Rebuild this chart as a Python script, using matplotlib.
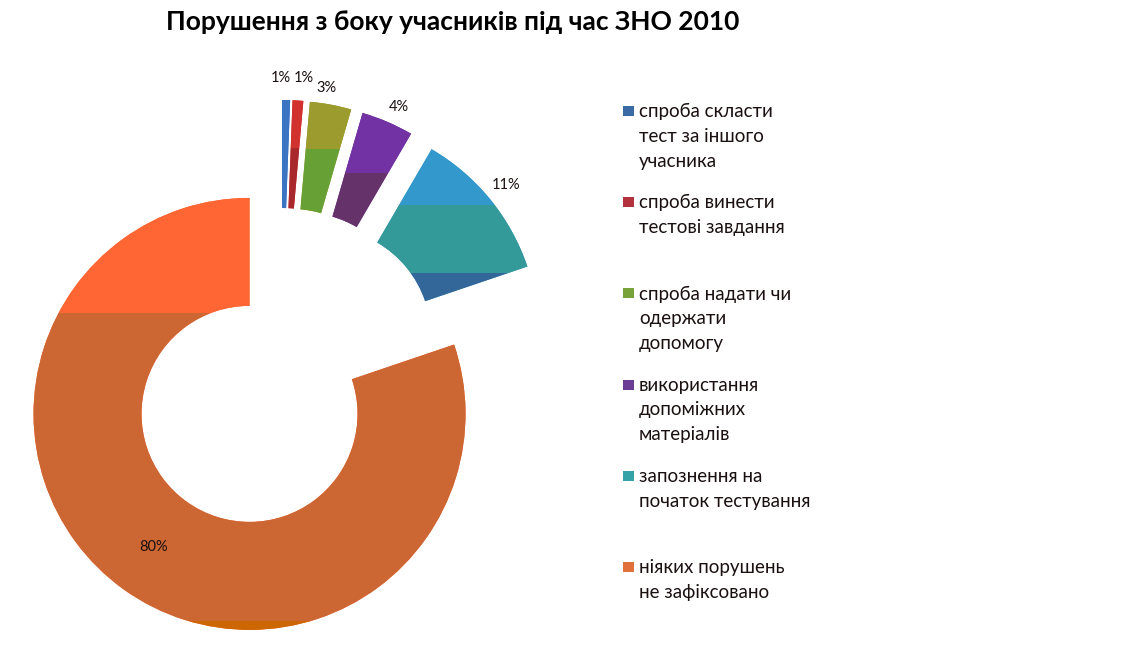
import matplotlib
matplotlib.use("Agg")
import matplotlib.pyplot as plt
from matplotlib.patches import Rectangle

plt.rcParams['font.family'] = ['Lato', 'DejaVu Sans']

# дані
categories = [
    "спроба скласти\nтест за іншого\nучасника",
    "спроба винести\nтестові завдання",
    "спроба надати чи\nодержати\nдопомогу",
    "використання\nдопоміжних\nматеріалів",
    "запознення на\nпочаток тестування",
    "ніяких порушень\nне зафіксовано",
]
shares = [0.6, 0.8, 3.1, 3.9, 11.4, 80.2]
title = "Порушення з боку учасників під час ЗНО 2010"

# оформлення (пікселі картинки)
W, H = 1127, 658
center = (281, H - 370)
R = 216
ring = 108
explode = [54] * 6
legend_colors = ['#3A6BA5', '#B2333E', '#77A33A', '#6B3D94', '#34A3A8', '#E0713A']
# смуги заливки: (частка висоти від верху, колір)
bands = [
    [(0.0, '#3B74C2')],
    [(0.0, '#D2322E'), (0.44, '#A8282C')],
    [(0.0, '#9C9B2E'), (0.42, '#67A034')],
    [(0.0, '#7332A3'), (0.53, '#65336A')],
    [(0.0, '#3399CC'), (0.367, '#339999'), (0.813, '#336699')],
    [(0.0, '#FF6633'), (0.266, '#CC6633'), (0.98, '#CC6600')],
]
label_pos = [(281, 78), (304, 78), (326, 88), (399, 107), (506, 185), (154, 547)]

fig = plt.figure(figsize=(W / 100, H / 100), dpi=100)
ax = fig.add_axes([0, 0, 1, 1])

wedges, _ = ax.pie(shares, startangle=90, counterclock=False, center=center,
                   radius=R, explode=explode,
                   colors=[b[0][1] for b in bands],
                   wedgeprops=dict(width=ring, linewidth=0))

for w, bb in zip(wedges, bands):
    ext = w.get_path().get_extents()
    top, h = ext.y1, ext.height
    for i, (f, c) in enumerate(bb):
        f2 = bb[i + 1][0] if i + 1 < len(bb) else 1.02
        r = Rectangle((ext.x0 - 2, top - f2 * h), ext.width + 4, (f2 - f) * h,
                      facecolor=c, linewidth=0, zorder=w.get_zorder() + 0.1)
        ax.add_patch(r)
        r.set_clip_path(w)

for v, (x, y) in zip(shares, label_pos):
    ax.text(x, H - y, "%.0f%%" % v, fontsize=10.5, ha='center', va='center',
            color='#1a1010')

ax.text(453, H - 22, title, fontsize=19, fontweight='bold', ha='center',
        va='center', color='black')

# легенда
for i, (lab, c) in enumerate(zip(categories, legend_colors)):
    y0 = 111 + 91.2 * i
    ax.add_patch(Rectangle((623, H - y0 - 5), 11, 10, facecolor=c, linewidth=0))
    ax.text(639, H - y0 + 8, lab, fontsize=13.5, ha='left', va='top',
            linespacing=1.55, color='#1a1010')

ax.set_xlim(0, W)
ax.set_ylim(0, H)
ax.set_aspect('equal')
ax.axis('off')

fig.savefig("out.png", dpi=100)
